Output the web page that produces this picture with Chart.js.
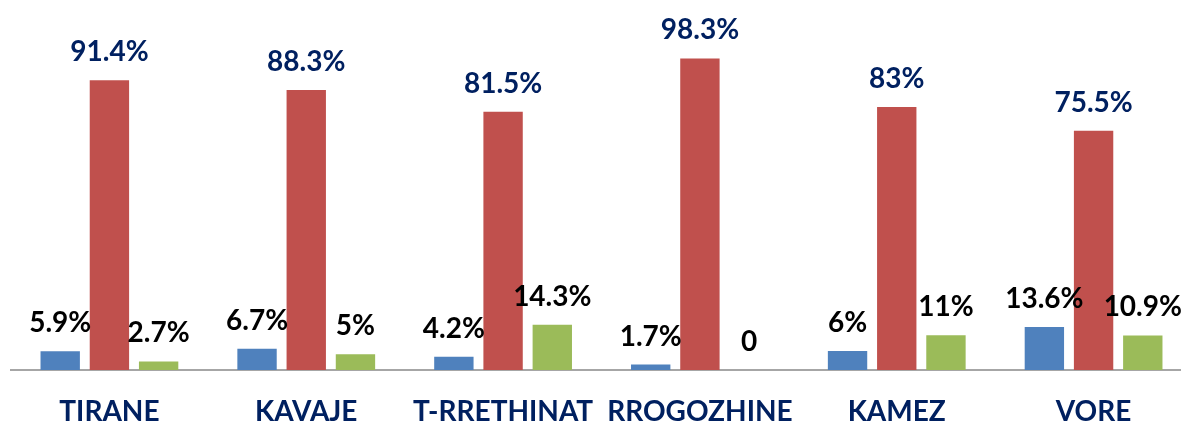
<!DOCTYPE html>
<html>
<head>
<meta charset="utf-8">
<script src="https://cdn.jsdelivr.net/npm/chart.js@4"></script>
<style>
    html, body { margin: 0; padding: 0; background: #fff; overflow: hidden; }
    #wrap { width: 1193px; height: 425px; }
</style>
</head>
<body>
<div id="wrap"><canvas id="chart" width="1193" height="425"></canvas></div>
<script>
// ========================================
// DATA
// ========================================
const categories = ['TIRANE', 'KAVAJE', 'T-RRETHINAT', 'RROGOZHINE', 'KAMEZ', 'VORE'];
const blueValues = [5.9, 6.7, 4.2, 1.7, 6, 13.6];
const redValues = [91.4, 88.3, 81.5, 98.3, 83, 75.5];
const greenValues = [2.7, 5, 14.3, 0, 11, 10.9];

const NAVY = '#002060';
const FONT = 'Lato';

// Draws value labels above each bar
const barLabels = {
    id: 'barLabels',
    afterDatasetsDraw(chart) {
        const ctx = chart.ctx;
        ctx.save();
        ctx.font = 'bold 28px ' + FONT;
        ctx.textAlign = 'center';
        ctx.textBaseline = 'alphabetic';
        chart.data.datasets.forEach((ds, i) => {
            const meta = chart.getDatasetMeta(i);
            meta.data.forEach((bar, j) => {
                const v = ds.data[j];
                ctx.fillStyle = ds.labelColor;
                const text = v === 0 ? '0' : v + '%';
                ctx.fillText(text, bar.x, bar.y - 19);
            });
        });
        ctx.restore();
    }
};

new Chart(document.getElementById('chart'), {
    type: 'bar',
    data: {
        labels: categories,
        datasets: [
            { data: blueValues, backgroundColor: '#4F81BD', labelColor: '#000' },
            { data: redValues, backgroundColor: '#C0504D', labelColor: NAVY },
            { data: greenValues, backgroundColor: '#9BBB59', labelColor: '#000' }
        ]
    },
    options: {
        responsive: false,
        animation: false,
        layout: {
            padding: { top: 53, left: 11, right: 1, bottom: 0 }
        },
        datasets: {
            bar: {
                barPercentage: 0.8,
                categoryPercentage: 0.75
            }
        },
        plugins: {
            legend: { display: false },
            tooltip: { enabled: false }
        },
        scales: {
            x: {
                grid: { display: false, drawTicks: false },
                border: { display: true, color: '#A6A6A6', width: 2 },
                ticks: {
                    color: NAVY,
                    padding: 25,
                    font: { family: FONT, size: 28, weight: 'bold' }
                },
                afterFit(scale) {
                    scale.height = 55;
                }
            },
            y: {
                display: false,
                min: 0,
                max: 100
            }
        }
    },
    plugins: [barLabels]
});
</script>
</body>
</html>
